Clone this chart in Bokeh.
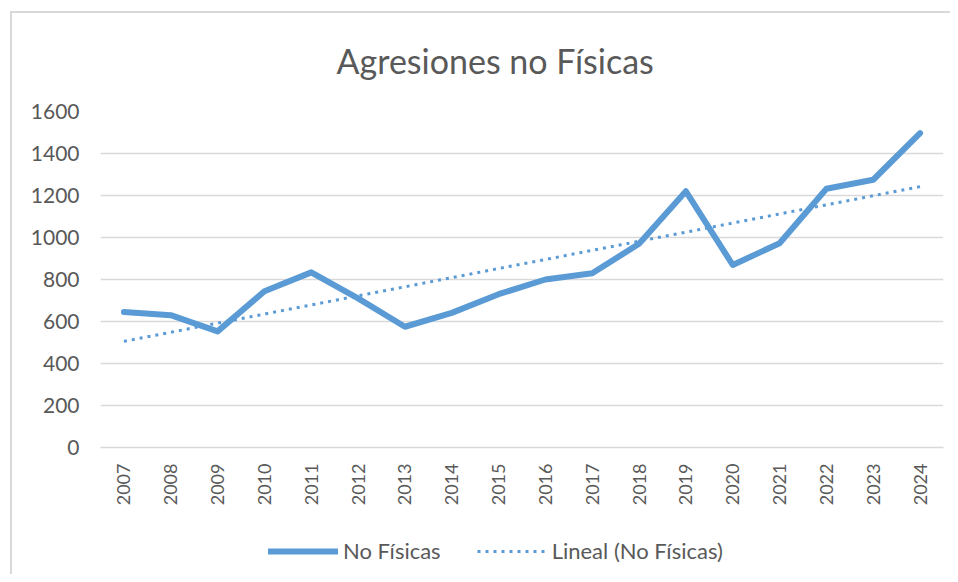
import numpy as np
from bokeh.plotting import figure
from bokeh.layouts import column
from bokeh.models import Range1d, FactorRange, Legend, LegendItem
from bokeh.embed import file_html
from bokeh.resources import INLINE

years = [str(y) for y in range(2007, 2025)]
no_fisicas = [645, 630, 553, 744, 834, 710, 575, 641, 730, 800, 830, 970, 1220, 869, 973, 1232, 1275, 1497]
y_ticks = [0, 200, 400, 600, 800, 1000, 1200, 1400, 1600]
series_names = ["No Físicas", "Lineal (No Físicas)"]

# linear trend (Excel "Lineal") fitted on the series
idx = np.arange(len(no_fisicas))
slope, intercept = np.polyfit(idx, no_fisicas, 1)
trend = list(intercept + slope * idx)

BLUE = "#5B9BD5"
GREY = "#595959"
GRID = "#D9D9D9"
FONT = "Lato"

p = figure(width=950, height=510, x_range=FactorRange(*years, range_padding=0),
           y_range=Range1d(0, 1600), output_backend="svg", toolbar_location=None,
           min_border_left=100, min_border_right=7, min_border_top=111, min_border_bottom=63)
p.outline_line_color = None
p.background_fill_color = "white"
p.border_fill_alpha = 0

main_style = dict(line_color=BLUE, line_width=6, line_join="round", line_cap="round")
trend_style = dict(line_color=BLUE, line_width=3, line_dash="3 5")
p.line(years, no_fisicas, **main_style)
p.line(years, trend, **trend_style)

p.title.text = "Agresiones no Físicas"
p.title.text_font = FONT
p.title.text_font_size = "34px"
p.title.text_font_style = "normal"
p.title.text_color = GREY
p.title.align = "left"
p.title.offset = 236
p.title.standoff = 62

p.yaxis.ticker = y_ticks
p.yaxis.axis_line_color = None
p.yaxis.major_tick_line_color = None
p.yaxis.minor_tick_line_color = None
p.yaxis.major_tick_out = 0
p.yaxis.major_tick_in = 0
p.yaxis.minor_tick_out = 0
p.yaxis.major_label_standoff = 21
p.yaxis.major_label_text_font = FONT
p.yaxis.major_label_text_font_size = "21px"
p.yaxis.major_label_text_color = GREY

p.xaxis.axis_line_color = GRID
p.xaxis.axis_line_width = 1.5
p.xaxis.major_tick_line_color = None
p.xaxis.minor_tick_line_color = None
p.xaxis.major_tick_out = 0
p.xaxis.major_tick_in = 0
p.xaxis.minor_tick_out = 0
p.xaxis.major_label_orientation = np.pi / 2
p.xaxis.major_label_standoff = 16
p.xaxis.major_label_text_font = FONT
p.xaxis.major_label_text_font_size = "18px"
p.xaxis.major_label_text_color = GREY

p.xgrid.grid_line_color = None
p.ygrid.grid_line_color = GRID
p.ygrid.grid_line_width = 1.5

# legend strip below the chart
lg = figure(width=950, height=64, x_range=Range1d(0, 1), y_range=Range1d(0, 1),
            output_backend="svg", toolbar_location=None, x_axis_type=None, y_axis_type=None,
            min_border_left=100, min_border_right=7, min_border_top=0, min_border_bottom=0)
lg.outline_line_color = None
lg.background_fill_alpha = 0
lg.border_fill_alpha = 0
lg.xgrid.grid_line_color = None
lg.ygrid.grid_line_color = None
nan = [float("nan")]
r1 = lg.line(nan, nan, **main_style)
r2 = lg.line(nan, nan, **trend_style)
legend = Legend(items=[LegendItem(label=series_names[0], renderers=[r1]),
                       LegendItem(label=series_names[1], renderers=[r2])],
                orientation="horizontal", location=(168, 10),
                padding=0, margin=0, spacing=36, label_standoff=5,
                glyph_width=70, glyph_height=24,
                label_text_font=FONT, label_text_font_size="22px", label_text_color=GREY,
                border_line_color=None, background_fill_alpha=0)
lg.add_layout(legend, "center")

chart_border = {
    "background-color": "white",
    "background-image": f"linear-gradient({GRID},{GRID}), linear-gradient({GRID},{GRID})",
    "background-size": "2px 100%, 100% 2px",
    "background-position": "10px 11px, 10px 11px",
    "background-repeat": "no-repeat",
}
layout = column(p, lg, spacing=0, styles=chart_border)
open("out.html", "w").write(file_html(layout, INLINE))
